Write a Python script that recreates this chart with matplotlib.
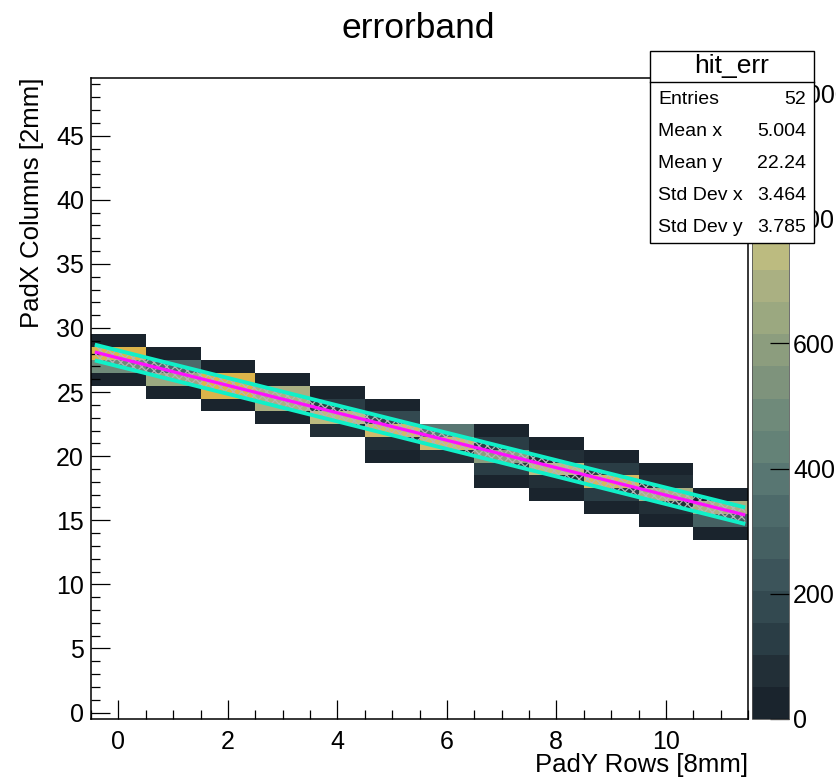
import numpy as np
import matplotlib
matplotlib.use("Agg")
import matplotlib.pyplot as plt
from matplotlib.colors import ListedColormap, BoundaryNorm
from matplotlib.ticker import MultipleLocator
from matplotlib.patches import Rectangle
from matplotlib.lines import Line2D

plt.rcParams['font.family'] = ['Liberation Sans', 'DejaVu Sans']
plt.rcParams['hatch.linewidth'] = 0.9

W, H = 836, 781

# Hit cells: pad row (x), pad column (y) and collected charge
cell_x = [0, 0, 0, 0,
          1, 1, 1, 1,
          2, 2, 2, 2,
          3, 3, 3, 3,
          4, 4, 4, 4,
          5, 5, 5, 5, 5,
          6, 6, 6,
          7, 7, 7, 7, 7,
          8, 8, 8, 8, 8,
          9, 9, 9, 9, 9,
          10, 10, 10, 10, 10,
          11, 11, 11, 11]
cell_y = [29, 28, 27, 26,
          28, 27, 26, 25,
          27, 26, 25, 24,
          26, 25, 24, 23,
          25, 24, 23, 22,
          24, 23, 22, 21, 20,
          22, 21, 20,
          22, 21, 20, 19, 18,
          21, 20, 19, 18, 17,
          20, 19, 18, 17, 16,
          19, 18, 17, 16, 15,
          17, 16, 15, 14]
cell_q = [30, 1024, 490, 40,
          40, 330, 620, 40,
          40, 990, 980, 50,
          40, 690, 700, 50,
          30, 140, 740, 60,
          30, 180, 850, 100, 30,
          380, 870, 60,
          40, 130, 590, 130, 30,
          30, 80, 740, 100, 30,
          30, 130, 890, 130, 30,
          30, 60, 690, 80, 30,
          40, 690, 300, 40]

# Track fit and its error band
fit_x = [-0.43, 11.45]
fit_y = [28.12, 15.41]
band_x = [-0.43, 11.45]
band_hi = [28.70, 16.00]
band_lo = [27.47, 14.71]

# Colour bar ticks
z_ticks = [0, 200, 400, 600, 800, 1000]

palette = ['#1a242d', '#222f37', '#2a3d45', '#334950', '#3c545a',
           '#456062', '#4d6a6a', '#587672', '#648277', '#6f8a7a',
           '#7e937c', '#8c9d7e', '#9ba880', '#aab082', '#bcbb80',
           '#c6bb78', '#cfba6c', '#d5b860', '#d9b654', '#dcb44a']

stats_rows = [("Entries", "52"), ("Mean x", "5.004"), ("Mean y", "22.24"),
              ("Std Dev x", "3.464"), ("Std Dev y", "3.785")]


def fx(x):
    return x / W


def fy(y):
    return 1 - y / H


fig = plt.figure(figsize=(W / 100, H / 100), dpi=100)
ax = fig.add_axes([fx(91), fy(719), fx(748) - fx(91), fy(78) - fy(719)])

xedges = np.arange(-0.5, 12.0, 1.0)
yedges = np.arange(-0.5, 50.0, 1.0)
hist, _, _ = np.histogram2d(cell_x, cell_y, bins=[xedges, yedges], weights=cell_q)
hist = np.ma.masked_equal(hist, 0)

zmax = max(cell_q)
cmap = ListedColormap(palette)
cmap.set_bad('white')
norm = BoundaryNorm(np.linspace(0, zmax, len(palette) + 1), cmap.N)
mesh = ax.pcolormesh(xedges, yedges, hist.T, cmap=cmap, norm=norm,
                     edgecolors='none', antialiased=False)

ax.fill_between(band_x, band_lo, band_hi, facecolor='none', edgecolor='#b4b4b4',
                hatch='xxxx', linewidth=0, zorder=3)
ax.plot(band_x, band_hi, color='#10f0c8', lw=2.8, zorder=4, solid_capstyle='butt')
ax.plot(band_x, band_lo, color='#10f0c8', lw=2.8, zorder=4, solid_capstyle='butt')
ax.plot(fit_x, fit_y, color='#ff10ff', lw=2.3, zorder=5, solid_capstyle='butt')

ax.set_xlim(-0.5, 11.5)
ax.set_ylim(-0.5, 49.5)
ax.xaxis.set_major_locator(MultipleLocator(2))
ax.xaxis.set_minor_locator(MultipleLocator(0.5))
ax.yaxis.set_major_locator(MultipleLocator(5))
ax.yaxis.set_minor_locator(MultipleLocator(1))
ax.tick_params(which='both', direction='in', top=False, right=False,
               labelsize=18, width=0.9, color='black')
ax.tick_params(which='major', length=13.5)
ax.tick_params(which='minor', length=6.8)
ax.tick_params(axis='x', which='major', pad=8)
ax.tick_params(axis='y', which='major', pad=5)
for s in ax.spines.values():
    s.set_linewidth(1.1)

fig.text(fx(748), fy(765), "PadY Rows [8mm]", ha='right', va='center', fontsize=18.5)
fig.text(fx(32), fy(78), "PadX Columns [2mm]", ha='center', va='top',
         rotation=90, fontsize=18.5)
fig.text(fx(418), fy(28), "errorband", ha='center', va='center', fontsize=25.5)

# Colour scale
cax = fig.add_axes([fx(752), fy(719), fx(789) - fx(752), fy(78) - fy(719)])
cb = fig.colorbar(mesh, cax=cax)
cb.set_ticks(z_ticks)
cb.outline.set_linewidth(0.6)
cb.outline.set_edgecolor('#555555')
cax.tick_params(direction='in', length=14, width=0.9, labelsize=18, pad=3,
                right=True, left=False, color='black')
cax.minorticks_off()

# Statistics box
x0, x1, y0, y1 = 650, 814, 51, 243
fig.add_artist(Rectangle((fx(x0), fy(y1)), fx(x1) - fx(x0), fy(y0) - fy(y1),
                         transform=fig.transFigure, facecolor='white',
                         edgecolor='black', linewidth=1.0, zorder=10))
fig.add_artist(Line2D([fx(x0), fx(x1)], [fy(82), fy(82)], transform=fig.transFigure,
                      color='black', linewidth=1.0, zorder=11))
fig.text(fx((x0 + x1) / 2), fy(66), "hit_err", ha='center', va='center',
         fontsize=19, zorder=12)
for i, (name, val) in enumerate(stats_rows):
    yy = 99 + i * 32
    fig.text(fx(658), fy(yy), name, ha='left', va='center', fontsize=14, zorder=12)
    fig.text(fx(806), fy(yy), val, ha='right', va='center', fontsize=14, zorder=12)

fig.savefig("out.png", dpi=100)
